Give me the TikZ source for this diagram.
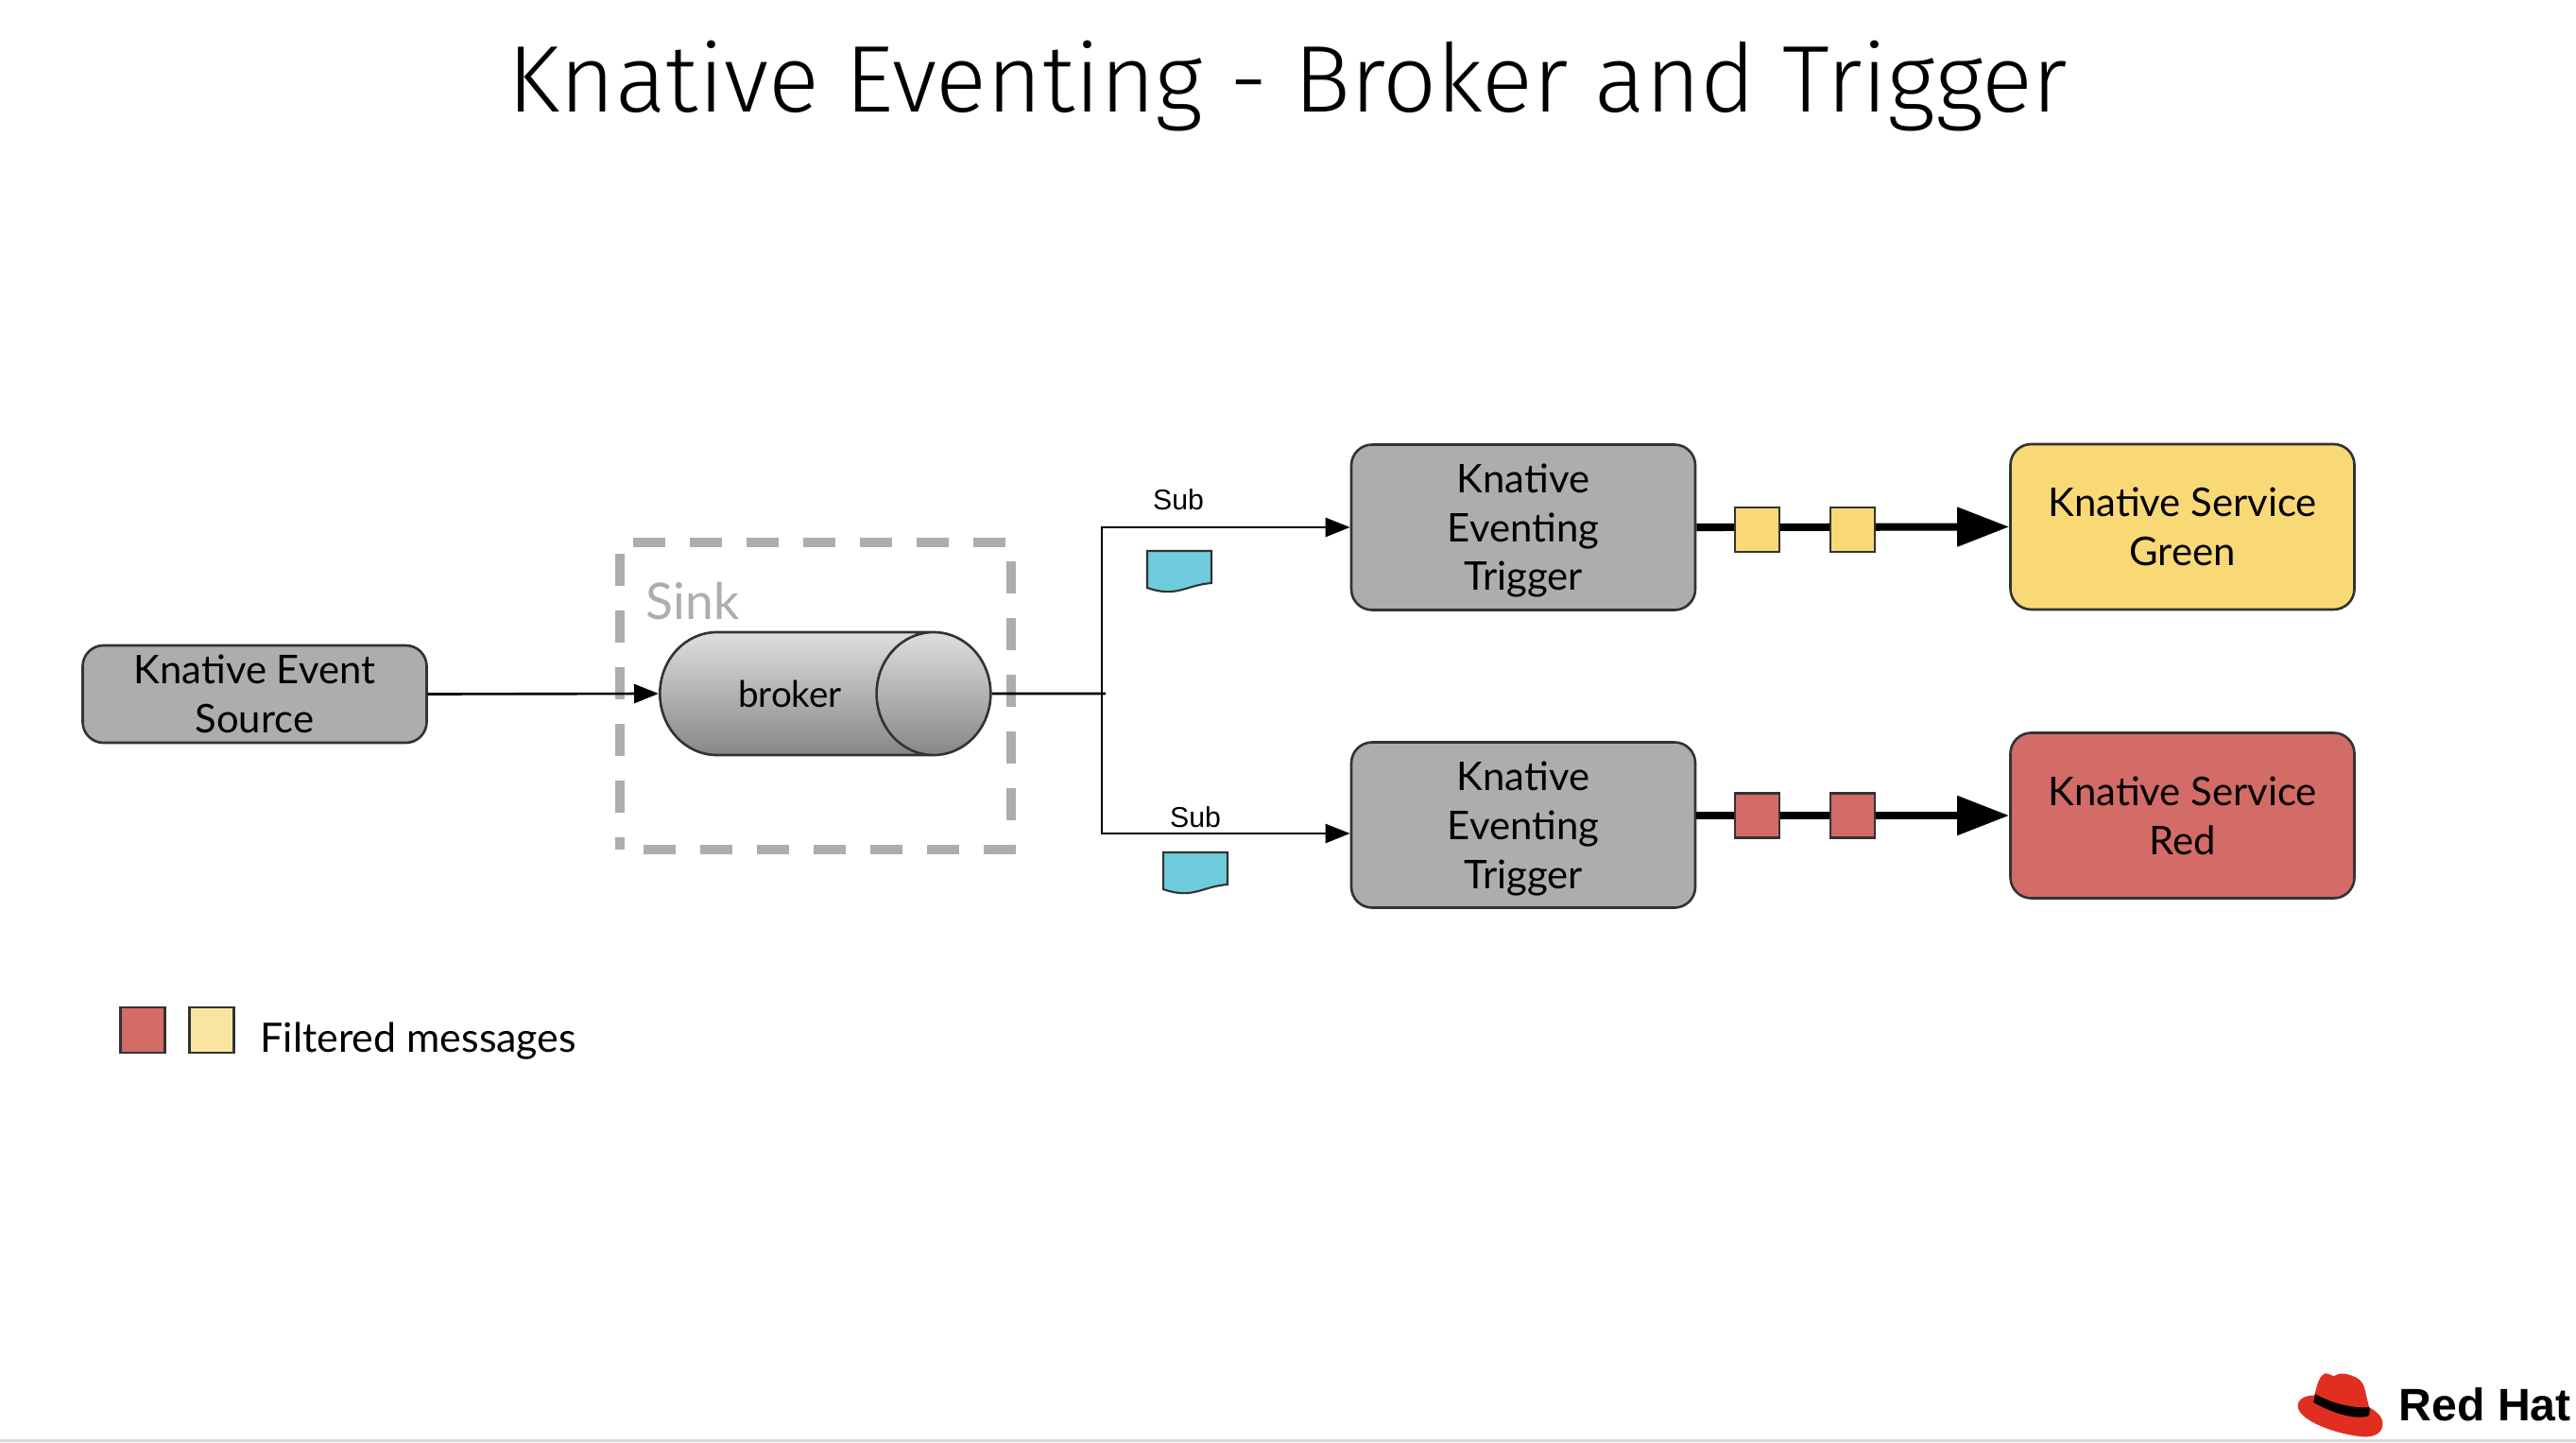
\documentclass[tikz,border=0pt]{standalone}
\usepackage{fontspec}
\setmainfont{Lato}
\newfontfamily\titlefont{Fira Sans Light}
\newfontfamily\subfont{Liberation Sans}
\usepackage{xcolor}
\usetikzlibrary{arrows.meta,calc,positioning,shapes.geometric}
\definecolor{boxgray}{HTML}{ADADAD}
\definecolor{linedark}{HTML}{333333}
\definecolor{svcgreen}{HTML}{F9D976}
\definecolor{svcred}{HTML}{D36B67}
\definecolor{msglight}{HTML}{F9E4A1}
\definecolor{docblue}{HTML}{6FCCDD}
\definecolor{hatred}{HTML}{E02F20}
\definecolor{footgray}{HTML}{DADADA}
\tikzset{
  knbox/.style={draw=linedark, rounded corners=2.2mm, line width=0.75pt, align=center, inner sep=0pt, minimum width=3.64cm, font=\fontsize{11.9}{14.7}\selectfont},
  kntrigger/.style={knbox, fill=boxgray, minimum height=1.75cm, text depth=0pt},
  knservice/.style={knbox, minimum height=1.75cm},
  knmsg/.style={draw=linedark, line width=0.6pt, minimum width=0.47cm, minimum height=0.47cm, inner sep=0pt},
  knarrow/.style={-{Triangle[length=2.6mm,width=2.0mm]}, line width=0.75pt, draw=black},
  knthick/.style={-{Triangle[length=5.5mm,width=4.0mm]}, line width=2.3pt, draw=black},
  kndoc/.style={draw=linedark, fill=docblue, line width=0.6pt},
  knsub/.style={font=\subfont\fontsize{8.6}{10}\selectfont}
}
\begin{document}
\begin{tikzpicture}[x=1cm,y=1cm]
  \useasboundingbox (0,0) rectangle (27.26,15.26);

  % title
  \node[anchor=base, inner sep=0pt, font=\titlefont\fontsize{28.5}{34}\selectfont] (title) at (13.63,14.07) {Knative Eventing - Broker and Trigger};

  % sink and broker
  \node[draw=boxgray, line width=2.8pt, dash pattern=on 3.4mm off 2.6mm, dash phase=3.5mm, minimum width=4.14cm, minimum height=3.25cm, inner sep=0pt] (sink) at (8.63,7.895) {};
  \node[anchor=base west, inner sep=0pt, text=boxgray, font=\fontsize{15.2}{18}\selectfont] (sinklabel) at (6.83,8.71) {Sink};
  \node[cylinder, anchor=west, shape border rotate=0, shape aspect=4.2, draw=linedark, line width=0.75pt, top color=black!13, bottom color=black!47, minimum width=1.30cm, minimum height=3.50cm, inner sep=0pt, font=\fontsize{11}{13}\selectfont] (broker) at (6.97,7.92) {\hspace*{-0.13cm}broker};

  % source
  \node[knbox, fill=boxgray, minimum height=1.03cm] (source) at (2.695,7.915) {Knative Event\\Source};

  % triggers and services
  \node[kntrigger] (triga) at (16.12,9.68) {Knative\\Eventing\\Trigger};
  \node[kntrigger] (trigb) at (16.12,6.53) {Knative\\Eventing\\Trigger};
  \node[knservice, fill=svcgreen] (svcgreen) at (23.095,9.685) {Knative Service\\Green};
  \node[knservice, fill=svcred] (svcred) at (23.095,6.63) {Knative Service\\Red};

  % routing coordinates
  \coordinate (branch) at (11.66,7.92);
  \coordinate (stub) at (11.70,7.92);

  % arrows
  \draw[knarrow] (source.east) -- (broker.west);
  \draw[line width=0.75pt] (broker.east) -- (stub);
  \draw[knarrow] (branch) |- (triga.west);
  \draw[knarrow] (branch) |- ($(trigb.west)+(0,-0.09)$);
  \draw[knthick] (triga.east) -- (svcgreen.west);
  \draw[knthick] (trigb.east |- svcred.west) -- (svcred.west);

  % messages
  \node[knmsg, fill=svcgreen] (msga) at (18.595,9.655) {};
  \node[knmsg, fill=svcgreen] (msgb) at (19.605,9.655) {};
  \node[knmsg, fill=svcred] (msgc) at (18.595,6.63) {};
  \node[knmsg, fill=svcred] (msgd) at (19.605,6.63) {};

  % subscriptions
  \node[knsub] (suba) at (12.47,9.97) {Sub};
  \node[knsub] (subb) at (12.65,6.61) {Sub};
  \draw[kndoc] (12.14,9.43) -- (12.82,9.43) -- (12.82,9.09) .. controls (12.55,9.07) and (12.45,8.93) .. (12.14,9.04) -- cycle;
  \draw[kndoc] (12.31,6.24) -- (12.99,6.24) -- (12.99,5.90) .. controls (12.72,5.88) and (12.62,5.74) .. (12.31,5.85) -- cycle;

  % legend
  \node[knmsg, fill=svcred, minimum height=0.48cm] (legred) at (1.51,4.36) {};
  \node[knmsg, fill=msglight, minimum height=0.48cm] (legyellow) at (2.24,4.36) {};
  \node[anchor=base west, inner sep=0pt, font=\fontsize{12.2}{14}\selectfont] (legtext) at (2.75,4.13) {Filtered messages};

  % logo
  \begin{scope}[shift={(23.8,1.06)}, x=0.00333cm, y=-0.00333cm]
    \fill[hatred] (155,200) .. controls (160,175) and (190,170) .. (208,170) .. controls (215,145) and (220,110) .. (242,100) .. controls (255,100) and (265,110) .. (272,108) .. controls (285,100) and (300,98) .. (320,105) .. controls (350,115) and (362,125) .. (368,150) -- (382,208) .. controls (405,220) and (428,240) .. (425,265) .. controls (420,295) and (395,302) .. (365,302) .. controls (280,295) and (150,250) .. (155,200) -- cycle;
    \fill[black] (210,165) .. controls (250,190) and (320,212) .. (382,208) .. controls (385,220) and (385,228) .. (380,235) .. controls (340,250) and (260,225) .. (205,192) -- cycle;
  \end{scope}
  \node[anchor=base west, inner sep=0pt, font=\subfont\bfseries\fontsize{13.7}{16}\selectfont] (logotext) at (25.38,0.23) {Red Hat};
  \fill[footgray] (0,0) rectangle (27.26,0.03);

\end{tikzpicture}
\end{document}
